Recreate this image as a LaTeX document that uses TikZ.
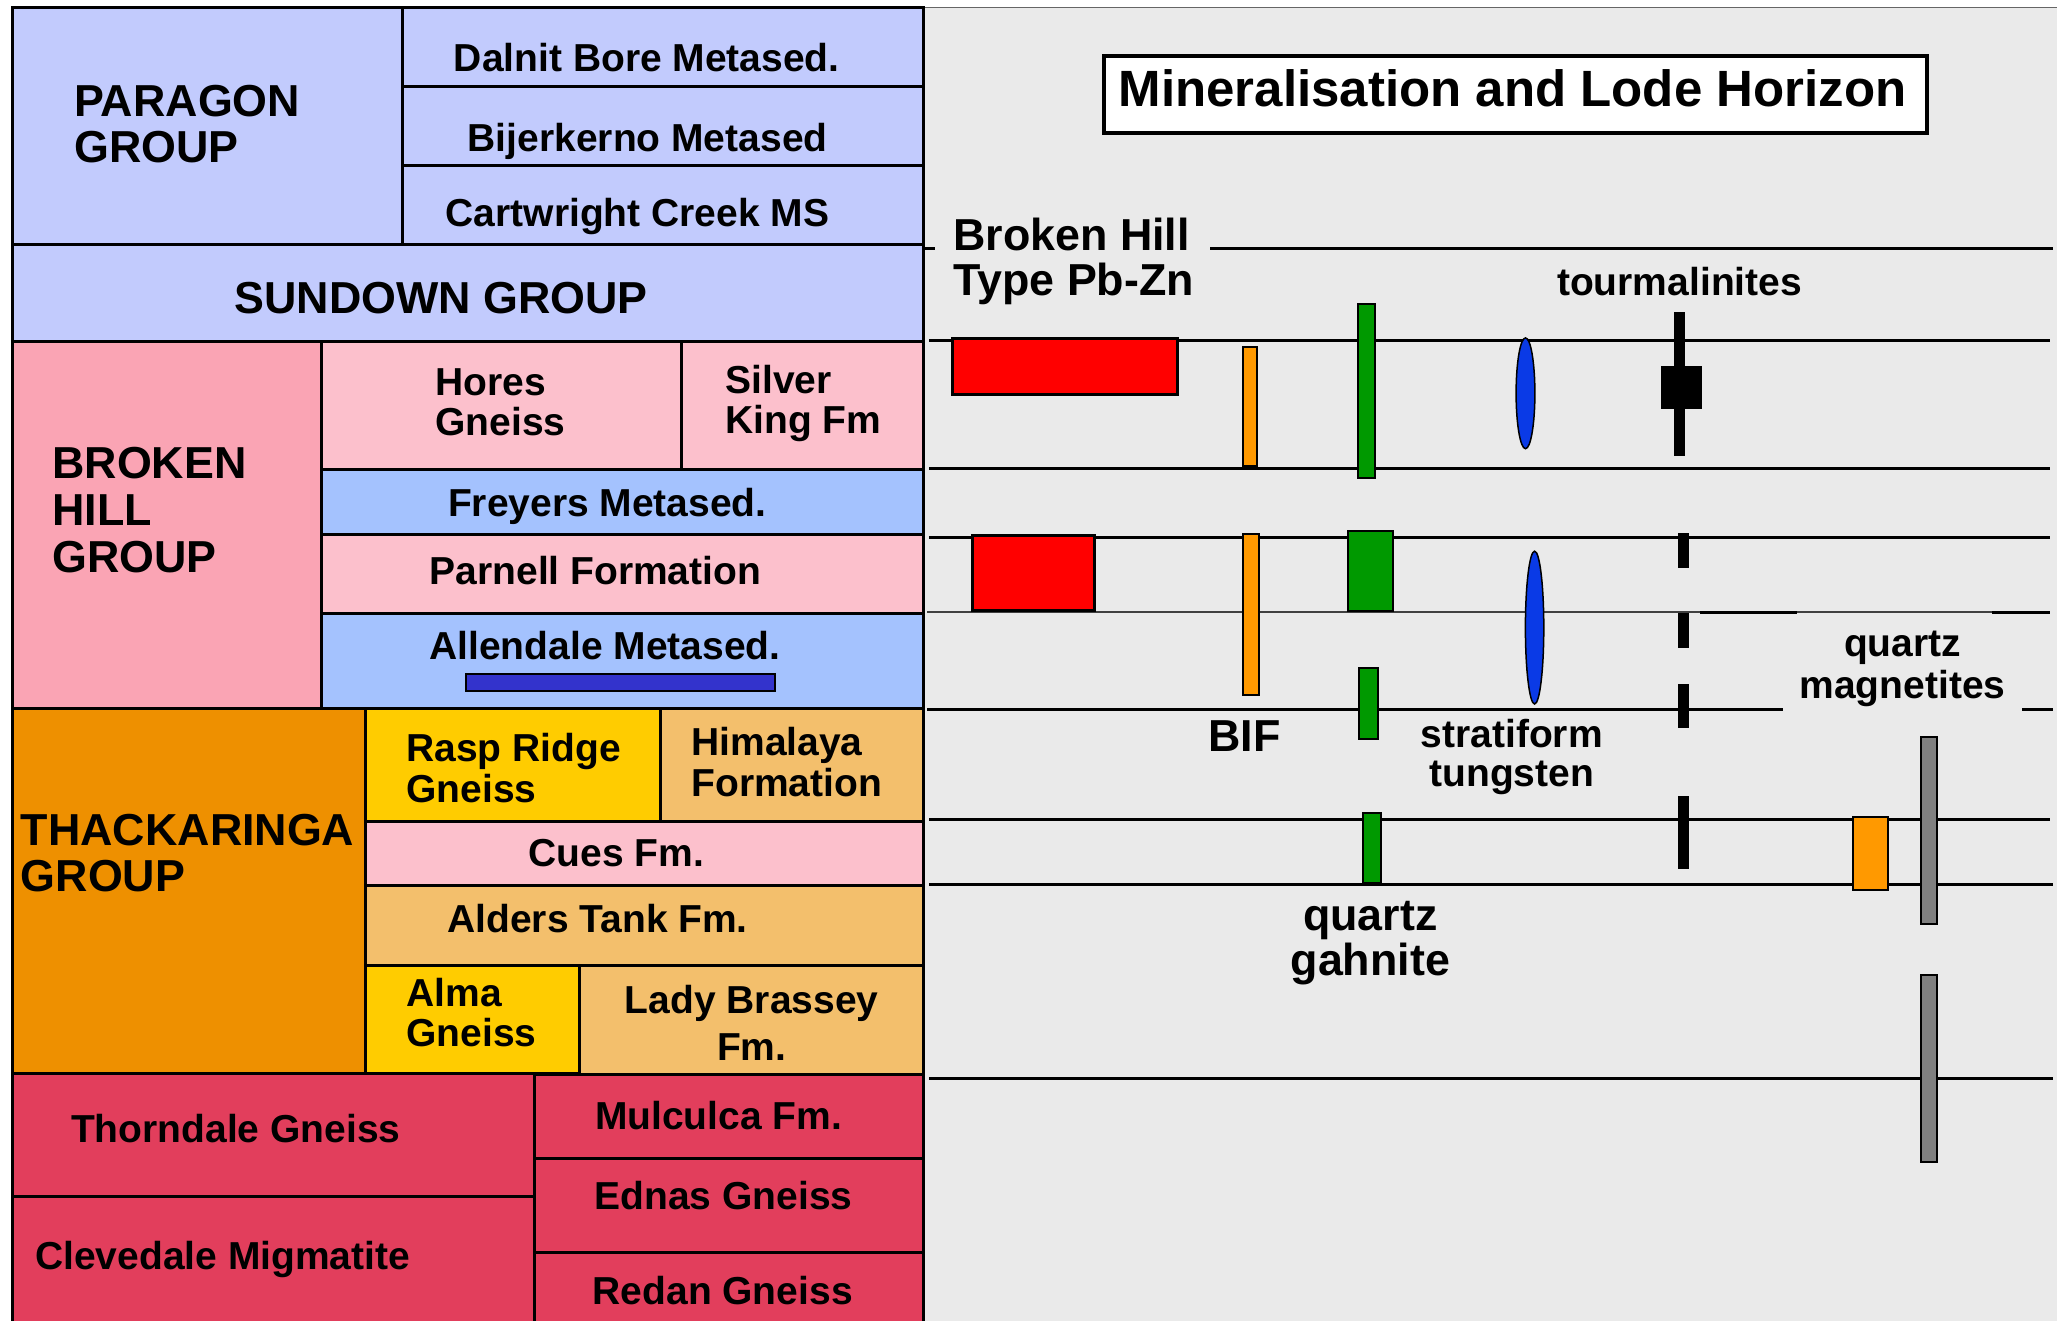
\documentclass[tikz,border=0pt]{standalone}
\usepackage{fontspec}
\setmainfont{Liberation Sans}
\definecolor{peri}{HTML}{C2CBFD}
\definecolor{bhpink}{HTML}{FAA4B4}
\definecolor{ltpink}{HTML}{FCC0CC}
\definecolor{ltblue}{HTML}{A4C2FE}
\definecolor{thorange}{HTML}{EE9000}
\definecolor{gyellow}{HTML}{FFCC00}
\definecolor{ltorange}{HTML}{F3BF6C}
\definecolor{crimson}{HTML}{E23E5C}
\definecolor{barblue}{HTML}{3333CC}
\definecolor{panelgray}{HTML}{EAEAEA}
\definecolor{minred}{HTML}{FF0000}
\definecolor{minorange}{HTML}{FF9900}
\definecolor{mingreen}{HTML}{009900}
\definecolor{minblue}{HTML}{0A3AE6}
\definecolor{mingray}{HTML}{808080}
\tikzset{
  layerbox/.style={draw=black, line width=1.5pt},
  grouplbl/.style={font=\fontsize{22.4}{23}\selectfont\bfseries, inner sep=0pt, align=left},
  unitlbl/.style={font=\fontsize{19.5}{20.3}\selectfont\bfseries, inner sep=0pt, align=left},
  horizon/.style={draw=black, line width=1.5pt},
  thinhorizon/.style={draw=black!75, line width=1pt},
  barshape/.style={draw=black, line width=1pt},
}
\begin{document}
\begin{tikzpicture}[x=0.5pt,y=-0.5pt]
\useasboundingbox (0,0) rectangle (2057,1321);
% right panel background
\path[fill=panelgray] (923.5,8) rectangle (2060,1330);
\draw[black!60, line width=0.75pt] (923.5,7.5) -- (2060,7.5);

% ---------------- left column (stratigraphy) ----------------
\path[layerbox, fill=peri] (12,8) rectangle (402,245);
\path[layerbox, fill=peri] (402,8) rectangle (923.5,86.5);
\path[layerbox, fill=peri] (402,86.5) rectangle (923.5,165.3);
\path[layerbox, fill=peri] (402,165.3) rectangle (923.5,245);
\path[layerbox, fill=peri] (12,245) rectangle (923.5,342);
\path[layerbox, fill=bhpink] (12,342) rectangle (321,708.5);
\path[layerbox, fill=ltpink] (321,342) rectangle (681,469);
\path[layerbox, fill=ltpink] (681,342) rectangle (923.5,469);
\path[layerbox, fill=ltblue] (321,469) rectangle (923.5,534);
\path[layerbox, fill=ltpink] (321,534) rectangle (923.5,613);
\path[layerbox, fill=ltblue] (321,613) rectangle (923.5,708.5);
\path[draw=black, line width=1pt, fill=barblue] (465.6,674) rectangle (775.2,690.5);
\path[layerbox, fill=thorange] (12,708.5) rectangle (365,1073.5);
\path[layerbox, fill=gyellow] (365,708.5) rectangle (660,821);
\path[layerbox, fill=ltorange] (660,708.5) rectangle (923.5,821);
\path[layerbox, fill=ltpink] (365,821) rectangle (923.5,885.5);
\path[layerbox, fill=ltorange] (365,885.5) rectangle (923.5,965.5);
\path[layerbox, fill=gyellow] (365,965.5) rectangle (579,1073.5);
\path[layerbox, fill=ltorange] (579,965.5) rectangle (923.5,1074.5);
\path[layerbox, fill=crimson] (12,1073.5) rectangle (534,1196.5);
\path[layerbox, fill=crimson] (12,1196.5) rectangle (534,1330);
\path[layerbox, fill=crimson] (534,1074.5) rectangle (923.5,1158);
\path[layerbox, fill=crimson] (534,1158) rectangle (923.5,1252);
\path[layerbox, fill=crimson] (534,1252) rectangle (923.5,1330);

% labels, left column
\node[grouplbl, anchor=west] (t-paragon) at (74,124) {PARAGON\\GROUP};
\node[unitlbl, anchor=base] (t-dalnit) at (646.8,72) {Dalnit Bore Metased.};
\node[unitlbl, anchor=base] (t-bijer) at (647.7,151.5) {Bijerkerno Metased};
\node[unitlbl, anchor=base] (t-cart) at (637.6,227) {Cartwright Creek MS};
\node[grouplbl, anchor=base] (t-sundown) at (441.3,313.6) {SUNDOWN GROUP};
\node[grouplbl, anchor=west, font=\fontsize{22.4}{23.5}\selectfont\bfseries] (t-bhgroup) at (52,510) {BROKEN\\HILL\\GROUP};
\node[unitlbl, anchor=west] (t-hores) at (435,402.4) {Hores\\Gneiss};
\node[unitlbl, anchor=west] (t-silver) at (725,403.5) {Silver\\King Fm};
\node[unitlbl, anchor=base] (t-freyers) at (607.4,516.5) {Freyers Metased.};
\node[unitlbl, anchor=base] (t-parnell) at (595.4,584.5) {Parnell Formation};
\node[unitlbl, anchor=base] (t-allendale) at (605,659.8) {Allendale Metased.};
\node[grouplbl, anchor=west] (t-thack) at (20.5,853) {THACKARINGA\\GROUP};
\node[unitlbl, anchor=west] (t-rasp) at (406,768.3) {Rasp Ridge\\Gneiss};
\node[unitlbl, anchor=west] (t-hima) at (691,762) {Himalaya\\Formation};
\node[unitlbl, anchor=base] (t-cues) at (616.5,866.3) {Cues Fm.};
\node[unitlbl, anchor=base] (t-alders) at (597.6,932.5) {Alders Tank Fm.};
\node[unitlbl, anchor=west] (t-alma) at (406,1012.7) {Alma\\Gneiss};
\node[unitlbl, anchor=center, align=center, font=\fontsize{19.5}{23.7}\selectfont\bfseries] (t-lady) at (751.8,1022.7) {Lady Brassey\\Fm.};
\node[unitlbl, anchor=base] (t-thorn) at (235.8,1142.8) {Thorndale Gneiss};
\node[unitlbl, anchor=base] (t-cleve) at (222.7,1269) {Clevedale Migmatite};
\node[unitlbl, anchor=base] (t-mulc) at (718.6,1129) {Mulculca Fm.};
\node[unitlbl, anchor=base] (t-ednas) at (723.6,1209) {Ednas Gneiss};
\node[unitlbl, anchor=base] (t-redan) at (722.7,1304.8) {Redan Gneiss};

% ---------------- right panel ----------------
\draw[black, line width=2pt, fill=white] (1104.4,56) rectangle (1927.3,133.3);
\node[inner sep=0pt, anchor=base, font=\fontsize{25.5}{27}\selectfont\bfseries] (title) at (1512.5,106.7) {Mineralisation and Lode Horizon};

% horizon lines
\draw[horizon] (924,249) -- (935,249);
\draw[horizon] (1210,249) -- (2053,249);
\draw[horizon] (929,341) -- (2050,341);
\draw[horizon] (929,468) -- (2050,468);
\draw[horizon] (929,537.5) -- (2050,537.5);
\draw[thinhorizon] (927,612) -- (2050,612);
\draw[horizon] (1700,612) -- (1797,612);
\draw[horizon] (1992,612) -- (2050,612);
\draw[horizon] (927,709) -- (1783,709);
\draw[horizon] (2022,709) -- (2053,709);
\draw[horizon] (929,819) -- (2050,819);
\draw[horizon] (929,884) -- (2053,884);
\draw[horizon] (929,1078) -- (2053,1078);

% Broken Hill type Pb-Zn
\path[barshape, line width=1.5pt, fill=minred] (952.6,338.9) rectangle (1177.4,394);
\path[barshape, line width=1.5pt, fill=minred] (972.2,535.2) rectangle (1094,610.3);
% BIF
\path[barshape, fill=minorange] (1242.7,347) rectangle (1256.5,465.6);
\path[barshape, fill=minorange] (1243.4,533.7) rectangle (1258.6,694.8);
% quartz gahnite
\path[barshape, fill=mingreen] (1358,304) rectangle (1375.4,477.5);
\path[barshape, fill=mingreen] (1347.8,531.4) rectangle (1392.8,611.4);
\path[barshape, fill=mingreen] (1359.4,667.7) rectangle (1377.6,738.8);
\path[barshape, fill=mingreen] (1363,813) rectangle (1380.5,883.3);
% stratiform tungsten
\filldraw[fill=minblue, draw=black, line width=0.75pt] (1525.5,393.3) ellipse [x radius=4.7pt, y radius=27.7pt];
\filldraw[fill=minblue, draw=black, line width=0.75pt] (1534.6,627.6) ellipse [x radius=4.6pt, y radius=38.2pt];
% tourmalinites
\path[fill=black] (1674,311.7) rectangle (1685,456.4);
\path[fill=black] (1661,366.5) rectangle (1701.7,408.6);
\path[fill=black] (1677.8,533) rectangle (1688.7,568);
\path[fill=black] (1677.8,613) rectangle (1688.7,648);
\path[fill=black] (1677.8,684) rectangle (1688.7,728);
\path[fill=black] (1677.8,795.5) rectangle (1688.7,869);
% quartz magnetites
\path[barshape, fill=minorange] (1853.3,816.6) rectangle (1888,890.2);
\path[barshape, fill=mingray] (1920.7,737.3) rectangle (1937.4,924);
\path[barshape, fill=mingray] (1920.7,975) rectangle (1937.4,1161.5);

% right panel labels
\node[grouplbl, anchor=west, font=\fontsize{22.4}{22.4}\selectfont\bfseries] (t-bhtype) at (953,261.5) {Broken Hill\\Type Pb-Zn};
\node[unitlbl, anchor=base] (t-tourm) at (1679.6,295.5) {tourmalinites};
\node[grouplbl, anchor=base] (t-bif) at (1244.5,751) {BIF};
\node[unitlbl, anchor=center, align=center, font=\fontsize{19.5}{19.75}\selectfont\bfseries] (t-strat) at (1511.7,757) {stratiform\\tungsten};
\node[unitlbl, anchor=center, align=center, font=\fontsize{19.5}{21.3}\selectfont\bfseries] (t-qmag) at (1902.5,669) {quartz\\magnetites};
\node[grouplbl, anchor=center, align=center, font=\fontsize{22.4}{22.25}\selectfont\bfseries] (t-qgah) at (1370.3,943) {quartz\\gahnite};
\end{tikzpicture}
\end{document}
